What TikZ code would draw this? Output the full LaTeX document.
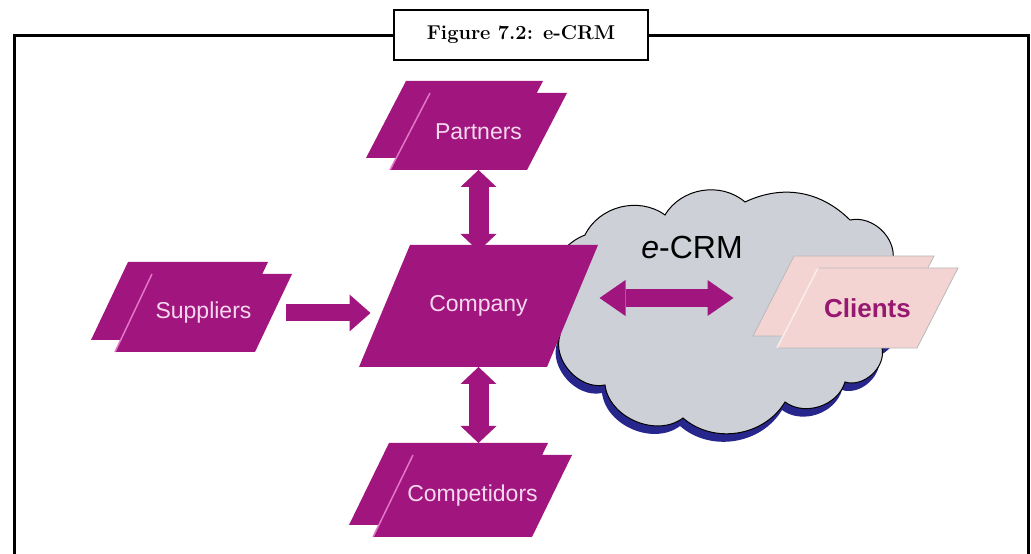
\documentclass[tikz,border=0pt]{standalone}
\usepackage{fontspec}
\newfontfamily\diagfont{Liberation Sans}
\usetikzlibrary{arrows.meta}
\definecolor{ecrmmagenta}{RGB}{160,22,126}
\definecolor{edgepink}{RGB}{228,118,200}
\definecolor{labelpink}{RGB}{246,216,238}
\definecolor{clientpink}{RGB}{243,212,210}
\definecolor{clientedge}{RGB}{252,238,236}
\definecolor{clienttext}{RGB}{150,24,112}
\definecolor{cloudgrey}{RGB}{206,208,216}
\definecolor{cloudshadow}{RGB}{38,38,140}
\tikzset{
  magpara/.style={fill=ecrmmagenta},
  magpara edge/.style={draw=edgepink, line width=1.5pt},
  pinkpara/.style={fill=clientpink, draw=gray!55, line width=0.8pt},
  pinkpara edge/.style={draw=clientedge, line width=1.5pt},
  parabox/.style={draw=none, inner sep=0pt, outer sep=0pt},
  maglabel/.style={font=\diagfont\fontsize{23}{27}\selectfont, text=labelpink},
  clientlabel/.style={font=\diagfont\bfseries\fontsize{26}{30}\selectfont, text=clienttext}
}
% one slanted face
\newcommand{\paraface}[6]{
  \fill[#1] (#2-#4/2+#6/2, #3+#5/2) -- (#2+#4/2+#6/2, #3+#5/2) --
    (#2+#4/2-#6/2, #3-#5/2) -- (#2-#4/2-#6/2, #3-#5/2) -- cycle;
}
% two stacked faces with a label
\newcommand{\drawstack}[9]{
  \paraface{#7}{#1-24}{#2+12}{#3}{#4}{#5}
  \paraface{#7}{#1}{#2}{#3}{#4}{#5}
  \draw[#7 edge] (#1-#3/2+#5/2, #2+#4/2) -- (#1-#3/2-#5/2, #2-#4/2);
  \node[parabox, #8, minimum width=#3, minimum height=#4] (#6) at (#1, #2) {#9};
}

\begin{document}
\begin{tikzpicture}[
  x=1pt, y=1pt,
  blockarrow/.style={draw=ecrmmagenta, line width=17pt,
    -{Triangle[length=21pt, width=37pt, line width=0pt]}},
  twinarrow/.style={draw=ecrmmagenta, line width=20pt,
    {Triangle[length=17pt, width=36pt, line width=0pt]}-{Triangle[length=17pt, width=36pt, line width=0pt]}},
  crmarrow/.style={draw=ecrmmagenta, line width=18pt,
    {Triangle[length=26pt, width=36pt, line width=0pt]}-{Triangle[length=26pt, width=36pt, line width=0pt]}},
  cloudpath/.style={insert path={
    (560,219) to[bend left=55] (585,319) to[bend left=50] (665,339)
    to[bend left=50] (745,352) to[bend left=35] (850,334)
    to[bend left=55] (893,294) to[bend left=55] (882,206)
    to[bend left=60] (845,172) to[bend left=55] (785,152)
    to[bend left=50] (683,136) to[bend left=60] (605,169)
    to[bend left=60] cycle}}
]
\useasboundingbox (0,0) rectangle (1031,554);
\fill[white] (0,0) rectangle (1031,554);

% Frame and title
\draw[line width=3pt] (14,-5) -- (14,518) -- (1028,518) -- (1028,-5);
\node[draw, line width=2.5pt, fill=white, minimum width=254, minimum height=50,
  font=\bfseries\fontsize{20}{24}\selectfont] (title) at (521,519) {Figure 7.2: e-CRM};

% Partners and Suppliers
\drawstack{478.5}{422.5}{137}{77}{40}{partners}{magpara}{maglabel}{Partners}
\drawstack{203.5}{241}{140}{78}{37}{suppliers}{magpara}{maglabel}{Suppliers}

% Cloud
\path[fill=cloudshadow, xshift=-3pt, yshift=-8pt] [cloudpath];
\path[fill=cloudgrey, draw=black, line width=1pt] [cloudpath];

% Company
\paraface{magpara}{478.5}{248}{188}{122}{51}
\node[parabox, maglabel, minimum width=188, minimum height=122] (company) at (478.5,248) {Company};

% Competidors and Clients
\drawstack{472.5}{58}{159}{82}{40}{competidors}{magpara}{maglabel}{Competidors}
\drawstack{867.5}{246}{140}{80}{41}{clients}{pinkpara}{clientlabel}{Clients}

% Arrows
\draw[blockarrow, shorten <=12pt, shorten >=14pt] (suppliers.east) -- (suppliers.east -| company.west);
\draw[twinarrow, shorten >=-6pt] (partners.south) -- (company.north);
\draw[twinarrow, shorten >=12pt] (company.south) -- (company.south |- competidors.north);
\draw[crmarrow] ([shift={(27,8)}]company.east) -- ([shift={(-64,8)}]company.east -| clients.west);

% e-CRM label
\node[font=\diagfont\fontsize{32}{36}\selectfont] (ecrm) at (692,307) {{\itshape e}-CRM};

\end{tikzpicture}
\end{document}
